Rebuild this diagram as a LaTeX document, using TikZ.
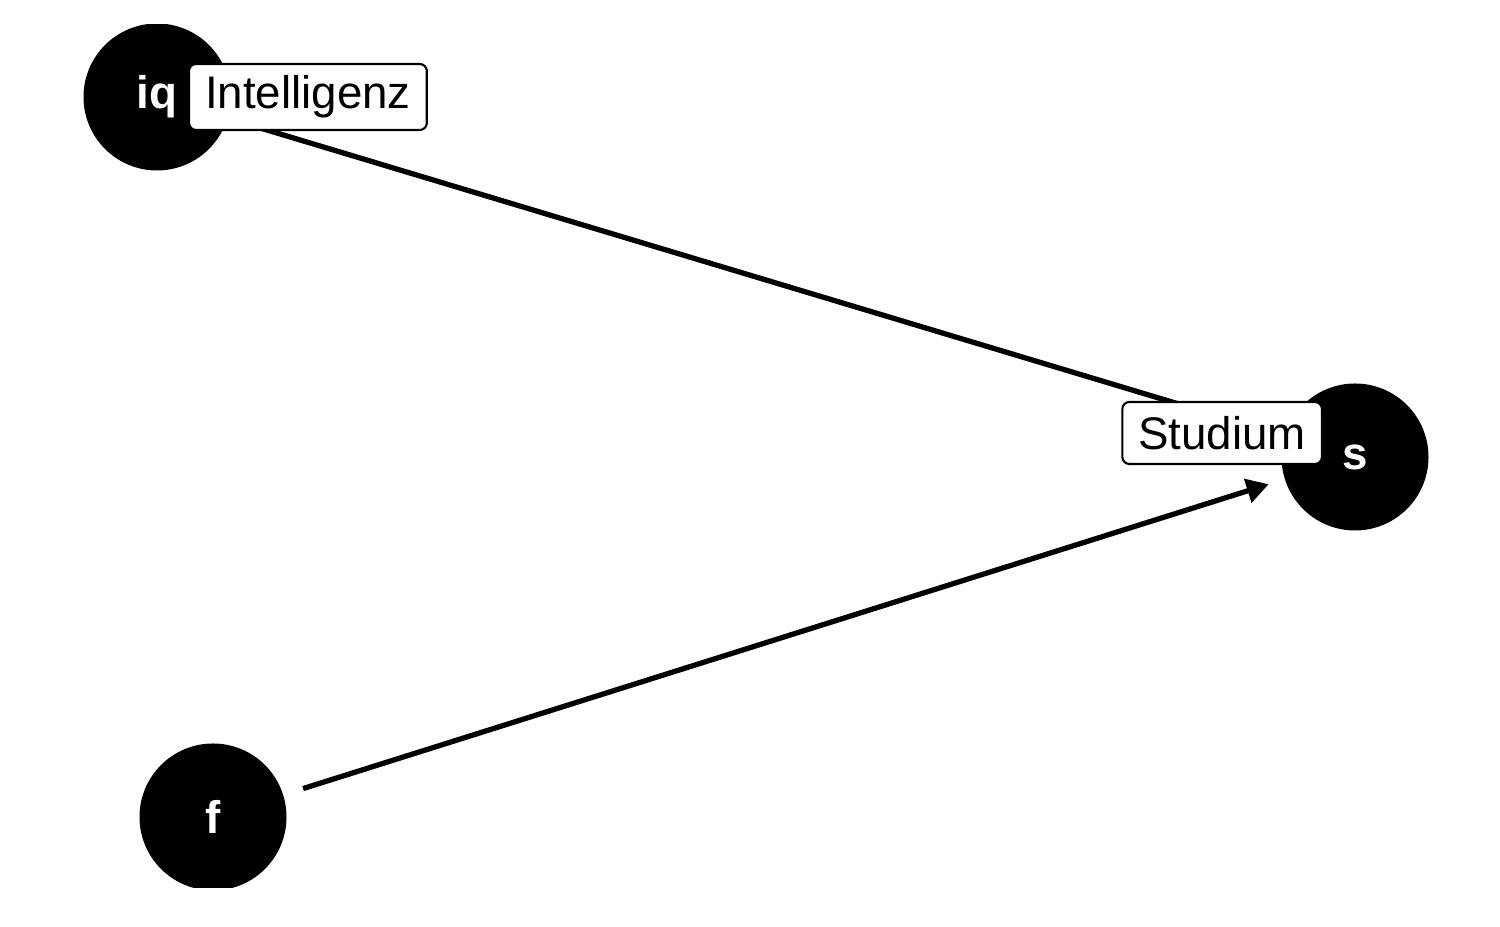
\documentclass[tikz,border=0pt]{standalone}
\usepackage{fontspec}
\setmainfont{Liberation Sans}
\usetikzlibrary{positioning,arrows.meta}

\tikzset{
  var/.style={circle, fill=black, draw=none, minimum size=1.47cm, inner sep=0pt, outer sep=0pt,
    text=white, font=\fontsize{13}{15}\selectfont\bfseries},
  lab/.style={draw=black, fill=white, rounded corners=2pt, line width=0.6pt, inner xsep=0.16cm,
    minimum height=0.62cm, font=\fontsize{13}{15}\selectfont},
  pfeil/.style={line width=1.5pt, -{Triangle[length=0.22cm,width=0.24cm]}, shorten <=0.21cm, shorten >=0.17cm}
}

\begin{document}
\begin{tikzpicture}
    \useasboundingbox (0,0) rectangle (15,9.27);
    \clip (0,0.39) rectangle (15,9.02);

    \node[var] (iq) at (1.57, 8.30) {iq};
    \node[var] (s)  at (13.55, 4.70) {s};
    \node[var] (f)  at (2.13, 1.10) {f};

    \draw[pfeil] (iq) -- (s);
    \draw[pfeil] (f) -- (s);

    \node[lab, right=0.31cm of iq.center] (iqlab) {Intelligenz};
    \node[lab, left=0.32cm of s.center, yshift=0.24cm] (slab) {Studium};
\end{tikzpicture}
\end{document}
